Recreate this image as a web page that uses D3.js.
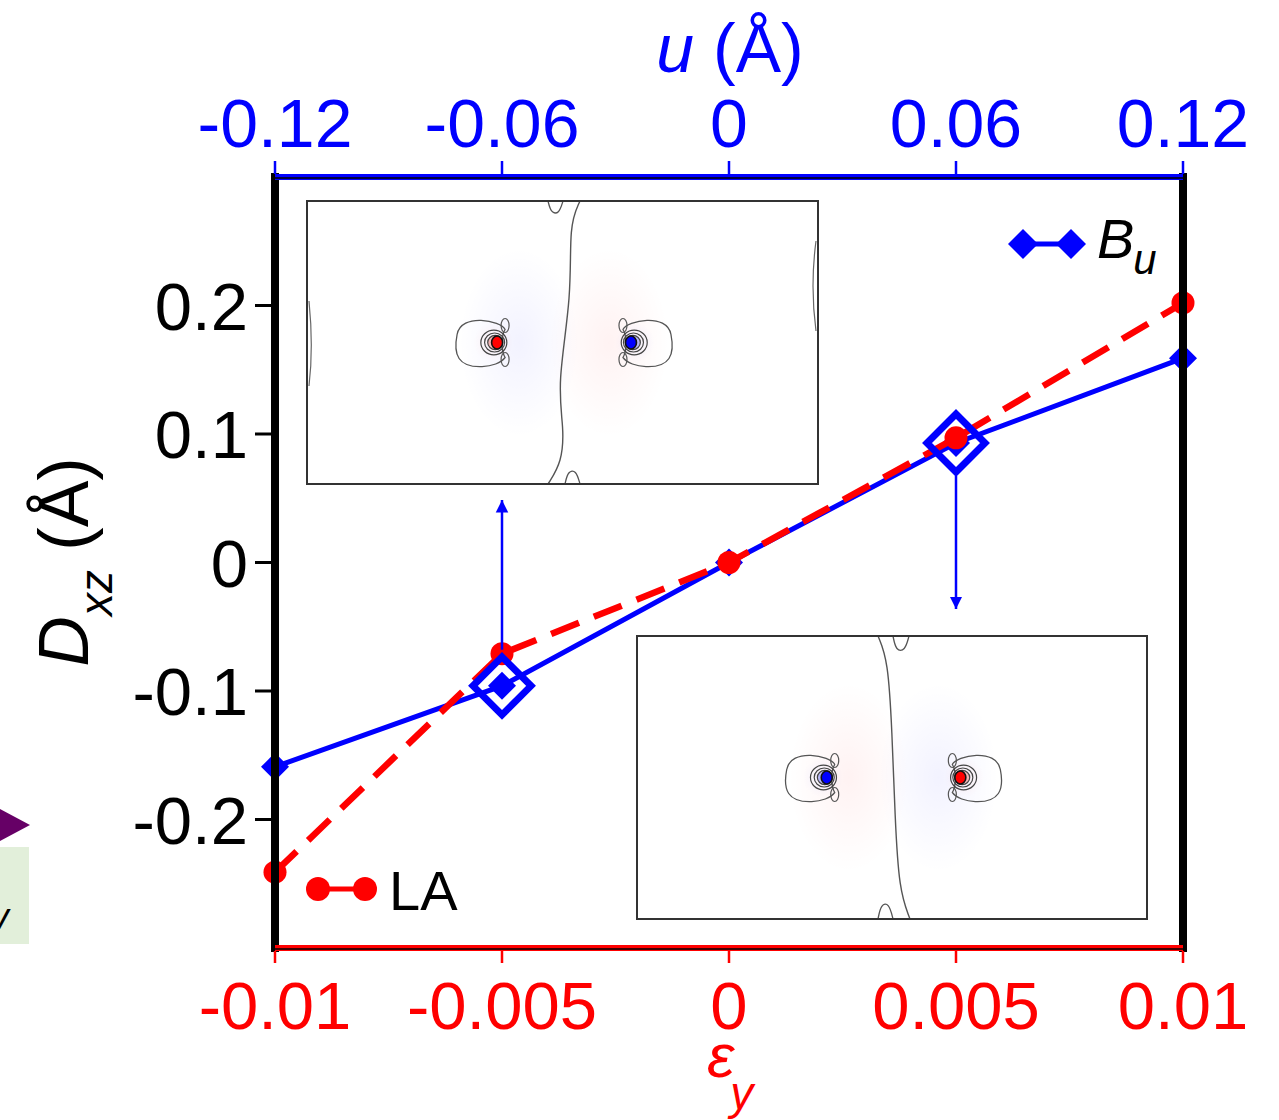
<!DOCTYPE html>
<html>
<head>
<meta charset="utf-8">
<script src="https://cdn.jsdelivr.net/npm/d3@7"></script>
<style>
  body { margin: 0; background: #fff; }
  svg { display: block; font-family: "Liberation Sans", Arial, Helvetica, sans-serif; }
</style>
</head>
<body>
<div id="main"></div>
<script>
// strain (bottom axis) and LA displacement
var strain = [-0.01, -0.005, 0, 0.005, 0.01];
var dxzLA = [-0.241, -0.071, 0, 0.097, 0.202];

// phonon amplitude u (top axis) and Bu displacement
var uAmp = [-0.12, -0.06, 0, 0.06, 0.12];
var dxzBu = [-0.159, -0.096, 0, 0.093, 0.159];

// highlighted points (open diamonds + insets)
var marked = [-0.06, 0.06];

var strainTicks = [-0.01, -0.005, 0, 0.005, 0.01];
var strainLabels = ['-0.01', '-0.005', '0', '0.005', '0.01'];
var uTicks = [-0.12, -0.06, 0, 0.06, 0.12];
var uLabels = ['-0.12', '-0.06', '0', '0.06', '0.12'];
var yTicks = [-0.2, -0.1, 0, 0.1, 0.2];
var yLabels = ['-0.2', '-0.1', '0', '0.1', '0.2'];

var width = 1279;
var height = 1120;
var pLeft = 275, pRight = 1183, pTop = 177, pBottom = 948;

var svg = d3.select('#main').append('svg').attr('width', width).attr('height', height);

var xE = d3.scaleLinear().domain([-0.01, 0.01]).range([pLeft, pRight]);
var xU = d3.scaleLinear().domain([-0.12, 0.12]).range([pLeft, pRight]);
var y = d3.scaleLinear().domain([-0.3, 0.3]).range([pBottom, pTop]);

var defs = svg.append('defs');

// leftover pieces of a neighbouring panel at the far left
svg.append('path').attr('d', 'M0,809 L30,825 L0,841 Z').attr('fill', '#660066');
svg.append('rect').attr('x', 0).attr('y', 847).attr('width', 29).attr('height', 97).attr('fill', '#e2efda');
svg.append('text').attr('x', -9).attr('y', 929).attr('font-size', 36).attr('font-style', 'italic').text('v');

// ---------- insets ----------
function halo(id, color) {
  var g = defs.append('radialGradient').attr('id', id);
  g.append('stop').attr('offset', '0%').attr('stop-color', color).attr('stop-opacity', 0.05);
  g.append('stop').attr('offset', '100%').attr('stop-color', color).attr('stop-opacity', 0);
}
halo('haloRed', '#ff0000');
halo('haloBlue', '#0000ff');

function dipole(g, cx, cy, color, dir) {
  var d = g.append('g').attr('transform', 'translate(' + cx + ',' + cy + ') scale(' + dir + ',1)');
  var other = color === 'red' ? 'haloBlue' : 'haloRed';
  var own = color === 'red' ? 'haloRed' : 'haloBlue';
  d.append('ellipse').attr('cx', 22).attr('cy', 0).attr('rx', 60).attr('ry', 95).attr('fill', 'url(#' + other + ')');
  d.append('ellipse').attr('cx', -4).attr('cy', 0).attr('rx', 20).attr('ry', 20).attr('fill', 'url(#' + own + ')');
  d.append('path')
    .attr('d', 'M8,-13 C4,-22 -36,-30 -40,-8 C-42,2 -42,10 -38,16 C-30,28 0,26 8,15 C4,8 4,-7 8,-13 Z')
    .attr('fill', 'none').attr('stroke', '#555').attr('stroke-width', 1.3);
  d.append('ellipse').attr('cx', 8).attr('cy', -17).attr('rx', 4).attr('ry', 7).attr('fill', 'none').attr('stroke', '#555').attr('stroke-width', 1.2);
  d.append('ellipse').attr('cx', 8).attr('cy', 17).attr('rx', 4).attr('ry', 7).attr('fill', 'none').attr('stroke', '#555').attr('stroke-width', 1.2);
  [13, 10, 7.5].forEach(function (r, i) {
    d.append('ellipse').attr('cx', -r * 0.25).attr('cy', 0).attr('rx', r).attr('ry', r * 0.95)
      .attr('fill', i === 2 ? (color === 'red' ? '#f3b5b5' : '#b5b5f3') : 'none')
      .attr('stroke', '#444').attr('stroke-width', 1.2);
  });
  d.append('ellipse').attr('cx', 0).attr('cy', 0).attr('rx', 5.5).attr('ry', 6.5).attr('fill', color === 'red' ? '#ff0000' : '#0000ff')
    .attr('stroke', '#111').attr('stroke-width', 1.6);
}

function drawInset(x0, y0, w, h, leftColor, rightColor, mid, bumpTop, bumpBottom) {
  var g = svg.append('g').attr('transform', 'translate(' + x0 + ',' + y0 + ')');
  g.append('rect').attr('width', w).attr('height', h).attr('fill', '#fff');
  dipole(g, w * 0.372, h * 0.5, leftColor, 1);
  dipole(g, w * 0.634, h * 0.5, rightColor, -1);
  var line = d3.line().curve(d3.curveBasis);
  g.append('path').attr('d', line(mid)).attr('fill', 'none').attr('stroke', '#555').attr('stroke-width', 1.4);
  g.append('path').attr('d', line(bumpTop)).attr('fill', 'none').attr('stroke', '#555').attr('stroke-width', 1.3);
  g.append('path').attr('d', line(bumpBottom)).attr('fill', 'none').attr('stroke', '#555').attr('stroke-width', 1.3);
  g.append('rect').attr('width', w).attr('height', h).attr('fill', 'none').attr('stroke', '#333').attr('stroke-width', 2);
  return g;
}

var topInset = drawInset(307, 201, 511, 283, 'red', 'blue',
  [[273, 0], [262, 24], [265, 94], [250, 184], [257, 227], [255, 261], [241, 283]],
  [[241, 0], [244, 12], [252, 13], [256, 0]],
  [[258, 283], [261, 270], [269, 269], [273, 283]]);
topInset.append('path').attr('d', 'M2,100 C5,130 5,160 2,185').attr('fill', 'none').attr('stroke', '#666').attr('stroke-width', 1.2);
topInset.append('path').attr('d', 'M509,40 C505,70 505,100 509,130').attr('fill', 'none').attr('stroke', '#666').attr('stroke-width', 1.2);

drawInset(637, 636, 510, 283, 'blue', 'red',
  [[241, 0], [251, 24], [255, 94], [258, 181], [262, 254], [273, 283]],
  [[256, 0], [259, 15], [268, 15], [272, 0]],
  [[241, 283], [244, 268], [252, 267], [256, 283]]);

// ---------- data lines ----------
var buPts = uAmp.map(function (d, i) { return [xU(d), y(dxzBu[i])]; });
var laPts = strain.map(function (d, i) { return [xE(d), y(dxzLA[i])]; });

svg.append('path').attr('d', d3.line()(buPts)).attr('fill', 'none').attr('stroke', '#0000ff').attr('stroke-width', 5);

var diamond = function (s) { return 'M0,' + (-s) + 'L' + s + ',0L0,' + s + 'L' + (-s) + ',0Z'; };

svg.selectAll('.bu').data(buPts).enter().append('path')
  .attr('class', 'bu')
  .attr('d', diamond(14))
  .attr('transform', function (d) { return 'translate(' + d[0] + ',' + d[1] + ')'; })
  .attr('fill', '#0000ff');

svg.append('path').attr('d', d3.line()(laPts)).attr('fill', 'none').attr('stroke', '#ff0000')
  .attr('stroke-width', 6.5).attr('stroke-dasharray', '30,16');

svg.selectAll('.la').data(laPts).enter().append('circle')
  .attr('class', 'la')
  .attr('cx', function (d) { return d[0]; })
  .attr('cy', function (d) { return d[1]; })
  .attr('r', 11.5)
  .attr('fill', '#ff0000');

// open diamonds for the two highlighted Bu points
var markedPts = marked.map(function (m) {
  var i = uAmp.indexOf(m);
  return [xU(m), y(dxzBu[i])];
});
svg.selectAll('.mark').data(markedPts).enter().append('path')
  .attr('class', 'mark')
  .attr('d', diamond(29))
  .attr('transform', function (d) { return 'translate(' + d[0] + ',' + d[1] + ')'; })
  .attr('fill', 'none').attr('stroke', '#0000ff').attr('stroke-width', 7);

// arrows to insets
defs.append('marker').attr('id', 'arrow').attr('viewBox', '0 0 10 10').attr('refX', 10).attr('refY', 5)
  .attr('markerWidth', 5).attr('markerHeight', 6).attr('orient', 'auto').attr('markerUnits', 'strokeWidth')
  .append('path').attr('d', 'M0,0 L10,5 L0,10 Z').attr('fill', '#0000ff');

svg.append('line')
  .attr('x1', markedPts[0][0]).attr('y1', y(dxzLA[1]) - 4)
  .attr('x2', markedPts[0][0]).attr('y2', 500)
  .attr('stroke', '#0000ff').attr('stroke-width', 2.5).attr('marker-end', 'url(#arrow)');
svg.append('line')
  .attr('x1', markedPts[1][0]).attr('y1', markedPts[1][1] + 33)
  .attr('x2', markedPts[1][0]).attr('y2', 609)
  .attr('stroke', '#0000ff').attr('stroke-width', 2.5).attr('marker-end', 'url(#arrow)');

// ---------- axes ----------
// left / right frame
svg.append('line').attr('x1', pLeft).attr('x2', pLeft).attr('y1', pTop - 4).attr('y2', pBottom + 4).attr('stroke', '#000').attr('stroke-width', 8);
svg.append('line').attr('x1', pRight).attr('x2', pRight).attr('y1', pTop - 4).attr('y2', pBottom + 4).attr('stroke', '#000').attr('stroke-width', 8);

// top (u) axis
svg.append('line').attr('x1', pLeft).attr('x2', pRight).attr('y1', pTop).attr('y2', pTop).attr('stroke', '#0000ff').attr('stroke-width', 6);
svg.append('line').attr('x1', pLeft).attr('x2', pRight).attr('y1', pTop + 1).attr('y2', pTop + 1).attr('stroke', '#000').attr('stroke-width', 1.5);
svg.selectAll('.utick').data(uTicks).enter().append('line')
  .attr('x1', function (d) { return xU(d); }).attr('x2', function (d) { return xU(d); })
  .attr('y1', pTop - 3).attr('y2', pTop - 16).attr('stroke', '#0000ff').attr('stroke-width', 2.5);
svg.selectAll('.ulab').data(uTicks).enter().append('text')
  .attr('x', function (d) { return xU(d); }).attr('y', 147)
  .attr('text-anchor', 'middle').attr('font-size', 68).attr('fill', '#0000ff')
  .text(function (d, i) { return uLabels[i]; });
var ut = svg.append('text').attr('x', 730).attr('y', 72).attr('text-anchor', 'middle').attr('font-size', 68).attr('fill', '#0000ff');
ut.append('tspan').attr('font-style', 'italic').text('u');
ut.append('tspan').text(' (Å)');

// bottom (strain) axis
svg.append('line').attr('x1', pLeft).attr('x2', pRight).attr('y1', pBottom).attr('y2', pBottom).attr('stroke', '#ff0000').attr('stroke-width', 6);
svg.append('line').attr('x1', pLeft).attr('x2', pRight).attr('y1', pBottom + 1).attr('y2', pBottom + 1).attr('stroke', '#000').attr('stroke-width', 1.5);
svg.selectAll('.etick').data(strainTicks).enter().append('line')
  .attr('x1', function (d) { return xE(d); }).attr('x2', function (d) { return xE(d); })
  .attr('y1', pBottom + 3).attr('y2', pBottom + 15).attr('stroke', '#ff0000').attr('stroke-width', 2.5);
svg.selectAll('.elab').data(strainTicks).enter().append('text')
  .attr('x', function (d) { return xE(d); }).attr('y', 1029)
  .attr('text-anchor', 'middle').attr('font-size', 67).attr('fill', '#ff0000')
  .text(function (d, i) { return strainLabels[i]; });
var et = svg.append('text').attr('x', 730).attr('y', 1077).attr('text-anchor', 'middle').attr('fill', '#ff0000').attr('font-style', 'italic');
et.append('tspan').attr('font-size', 62).text('ε');
et.append('tspan').attr('font-size', 46).attr('dy', 32).attr('dx', -4).text('y');

// y axis
svg.selectAll('.ytick').data(yTicks).enter().append('line')
  .attr('x1', pLeft - 20).attr('x2', pLeft)
  .attr('y1', function (d) { return y(d); }).attr('y2', function (d) { return y(d); })
  .attr('stroke', '#000').attr('stroke-width', 3);
svg.selectAll('.ylab').data(yTicks).enter().append('text')
  .attr('x', 248).attr('y', function (d) { return y(d); }).attr('dy', '0.36em')
  .attr('text-anchor', 'end').attr('font-size', 67).attr('fill', '#000')
  .text(function (d, i) { return yLabels[i]; });
var yt = svg.append('text').attr('transform', 'translate(88,562) rotate(-90)').attr('text-anchor', 'middle').attr('font-size', 70).attr('fill', '#000');
yt.append('tspan').attr('font-style', 'italic').text('D');
yt.append('tspan').attr('font-style', 'italic').attr('font-size', 46).attr('dy', 24).text('xz');
yt.append('tspan').attr('dy', -24).text('  (Å)');

// ---------- legends ----------
var buLeg = [[1023, 244], [1071, 244]];
svg.append('path').attr('d', d3.line()(buLeg)).attr('stroke', '#0000ff').attr('stroke-width', 5);
svg.selectAll('.buleg').data(buLeg).enter().append('path')
  .attr('d', diamond(15))
  .attr('transform', function (d) { return 'translate(' + d[0] + ',' + d[1] + ')'; })
  .attr('fill', '#0000ff');
var bt = svg.append('text').attr('x', 1097).attr('y', 258).attr('font-size', 56).attr('font-style', 'italic').attr('fill', '#000');
bt.append('tspan').text('B');
bt.append('tspan').attr('font-size', 42).attr('dy', 16).attr('dx', -1).text('u');

var laLeg = [[318, 889], [365, 889]];
svg.append('path').attr('d', d3.line()(laLeg)).attr('stroke', '#ff0000').attr('stroke-width', 5);
svg.selectAll('.laleg').data(laLeg).enter().append('circle')
  .attr('cx', function (d) { return d[0]; }).attr('cy', function (d) { return d[1]; })
  .attr('r', 12).attr('fill', '#ff0000');
svg.append('text').attr('x', 389).attr('y', 910).attr('font-size', 56).attr('fill', '#000').text('LA');
</script>
</body>
</html>
